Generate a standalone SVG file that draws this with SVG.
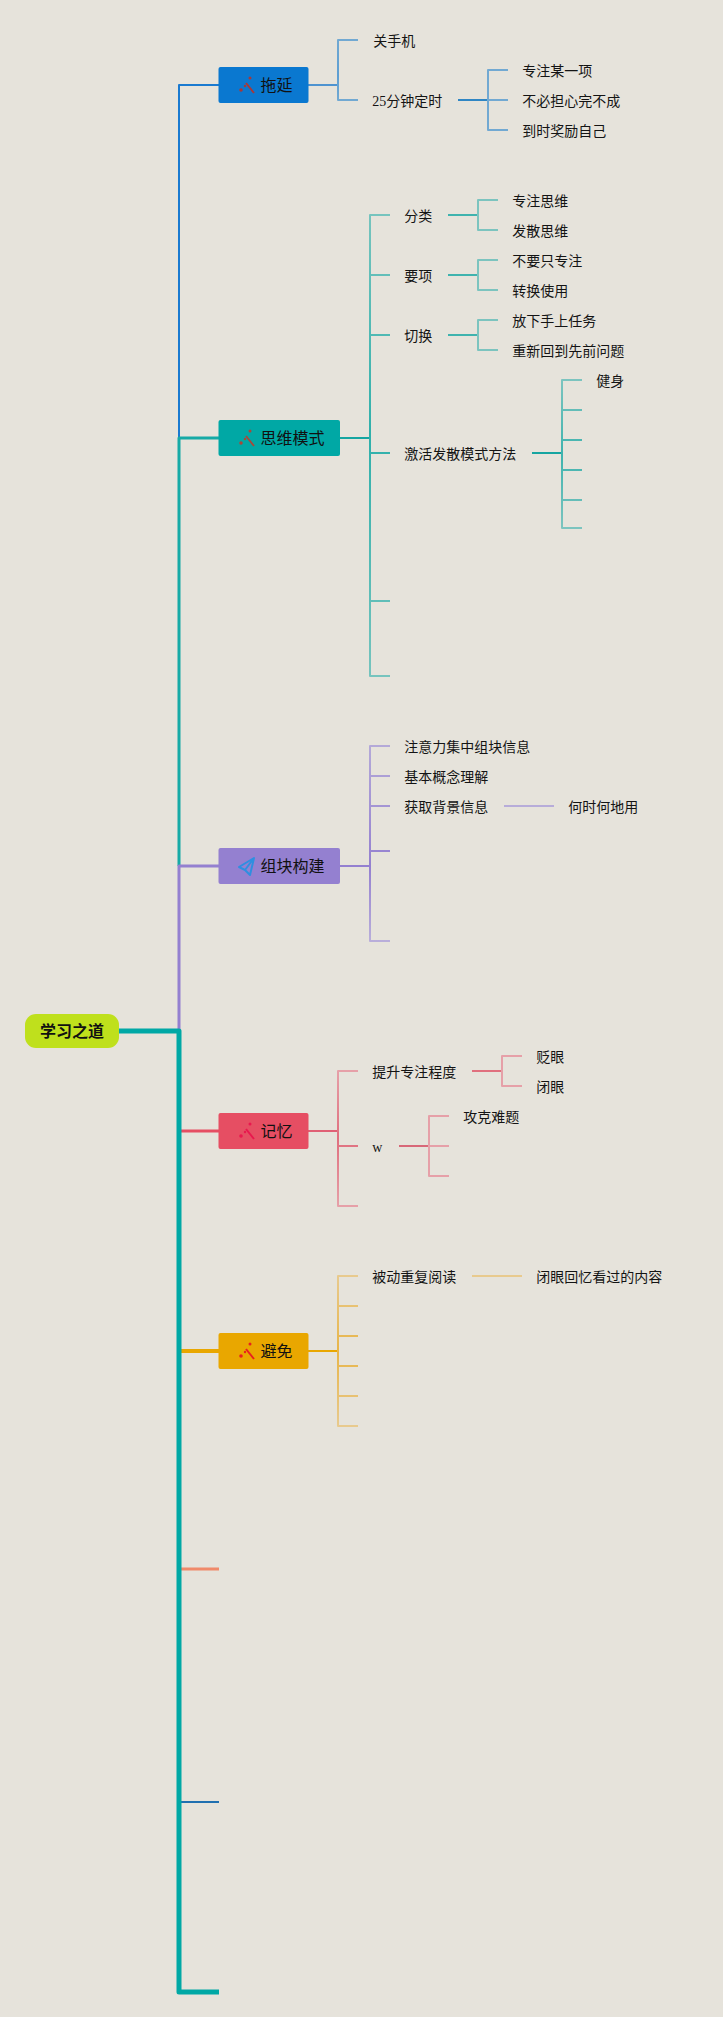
<svg xmlns="http://www.w3.org/2000/svg" width="723" height="2017" viewBox="0 0 723 2017">
<style>
text{font-family:"Liberation Serif","Noto Sans CJK SC",serif;font-size:14px;fill:#141414}
.nt{font-size:16px;fill:#111}
.root{font-size:16px;font-weight:700;fill:#111;font-family:"Noto Sans CJK SC","Liberation Sans",sans-serif}
.nd{stroke:none}
path,line{fill:none;stroke-linejoin:round}
.b{stroke-width:2}
.hub{stroke-width:2}
.wand{stroke-width:2}
</style>
<defs>
<linearGradient id="gb" x1="0" y1="0" x2="0" y2="1"><stop offset="0" stop-color="#72a9d2"/><stop offset=".6" stop-color="#5d9ed2"/><stop offset="1" stop-color="#72a9d2"/></linearGradient>
<linearGradient id="gt" x1="0" y1="0" x2="0" y2="1"><stop offset="0" stop-color="#76c4be"/><stop offset=".48" stop-color="#2fb0ab"/><stop offset="1" stop-color="#76c4be"/></linearGradient>
<linearGradient id="gt2" x1="0" y1="0" x2="0" y2="1"><stop offset="0" stop-color="#7cc4bf"/><stop offset=".5" stop-color="#3fb3ae"/><stop offset="1" stop-color="#7cc4bf"/></linearGradient>
<linearGradient id="gp" x1="0" y1="0" x2="0" y2="1"><stop offset="0" stop-color="#b4a9d8"/><stop offset=".615" stop-color="#9480d0"/><stop offset="1" stop-color="#b9aeda"/></linearGradient>
<linearGradient id="gr" x1="0" y1="0" x2="0" y2="1"><stop offset="0" stop-color="#e6a0a8"/><stop offset=".5" stop-color="#e06f7e"/><stop offset="1" stop-color="#e6a0a8"/></linearGradient>
<linearGradient id="gy" x1="0" y1="0" x2="0" y2="1"><stop offset="0" stop-color="#e8ca8e"/><stop offset=".5" stop-color="#e8b548"/><stop offset="1" stop-color="#e8ca8e"/></linearGradient>
</defs>
<rect width="723" height="2017" fill="#e6e3db"/>
<g id="connectors">
<path d="M219 85H179V438" stroke="#1a7ad0" stroke-width="2"/>
<path d="M219 438H179V866" stroke="#16aaa6" stroke-width="3"/>
<path d="M219 866H179V1031" stroke="#9480d0" stroke-width="3"/>
<path d="M219 1131H179" stroke="#e64e63" stroke-width="3"/>
<path d="M219 1351H179" stroke="#e9a700" stroke-width="4"/>
<path d="M179 1569H219" stroke="#f08a6a" stroke-width="3"/>
<path d="M179 1802H219" stroke="#2070b0" stroke-width="2"/>
<path d="M118 1031H179V1992H219" stroke="#00a8a5" stroke-width="5"/>

<path class="hub" d="M308 85H338" stroke="#4e93d0"/>
<path class="b" d="M358 40H338V100H358" stroke="url(#gb)"/>
<path class="hub" d="M458 100H488" stroke="#2f86c4"/>
<path class="b" d="M508 70H488V130H508M488 100H508" stroke="#72a9d2"/>

<path class="hub" d="M340 438H370" stroke="#16a5a1"/>
<path class="b" d="M390 215H370V676H390M370 275H390M370 335H390M370 453H390M370 601H390" stroke="url(#gt)"/>
<path class="hub" d="M448 215H478M448 275H478M448 335H478" stroke="#3fb3ae"/>
<path class="b" d="M498 200H478V230H498" stroke="#7cc4bf"/>
<path class="b" d="M498 260H478V290H498" stroke="#7cc4bf"/>
<path class="b" d="M498 320H478V350H498" stroke="#7cc4bf"/>
<path class="hub" d="M532 453H562" stroke="#16a5a1"/>
<path class="b" d="M582 380H562V528H582M562 410H582M562 440H582M562 470H582M562 500H582" stroke="url(#gt2)"/>

<path class="hub" d="M340 866H370" stroke="#9480d0"/>
<path class="b" d="M390 746H370V941H390M370 776H390M370 806H390M370 851H390" stroke="url(#gp)"/>
<path class="b" d="M504 806H554" stroke="#b7acd9"/>

<path class="hub" d="M308 1131H338" stroke="#e06075"/>
<path class="b" d="M358 1071H338V1206H358M338 1146H358" stroke="url(#gr)"/>
<path class="hub" d="M472 1071H502" stroke="#e0707e"/>
<path class="b" d="M522 1056H502V1086H522" stroke="#e6a0a8"/>
<path class="hub" d="M399 1146H429" stroke="#d86878"/>
<path class="b" d="M449 1116H429V1176H449M429 1146H449" stroke="#e6a0a8"/>

<path class="hub" d="M308 1351H338" stroke="#e9a700"/>
<path class="b" d="M358 1276H338V1426H358M338 1306H358M338 1336H358M338 1366H358M338 1396H358" stroke="url(#gy)"/>
<path class="b" d="M472 1276H522" stroke="#e8ca8e"/>
</g>

<g id="root"><rect x="25" y="1014" width="94" height="34" rx="11" fill="#bfe01c"/><text class="root" x="40" y="1037">学习之道</text></g>

<g id="n-tuoyan"><rect class="nd" x="218.500" y="67" width="90" height="36" rx="2" fill="#0a78d0"/>
<path class="wand" d="M246 83L254 93" stroke="#a83838"/><circle cx="241" cy="90" r="1.800" fill="#a83838"/><circle cx="245" cy="86" r="1.200" fill="#a83838"/><circle cx="250" cy="78" r="1.500" fill="#a83838"/>
<text class="nt" x="260.500" y="91">拖延</text></g>

<g id="n-siwei"><rect class="nd" x="218.500" y="420" width="121.500" height="36" rx="2" fill="#00a8a5"/>
<path class="wand" d="M246 436L254 446" stroke="#a8483a"/><circle cx="241" cy="443" r="1.800" fill="#a8483a"/><circle cx="245" cy="439" r="1.200" fill="#a8483a"/><circle cx="250" cy="431" r="1.500" fill="#a8483a"/>
<text class="nt" x="260.500" y="444">思维模式</text></g>

<g id="n-zukuai"><rect class="nd" x="218.500" y="848" width="121.500" height="36" rx="2" fill="#9480d0"/>
<path d="M254 858L239 867L245 870L250 875ZM245 870L254 858" stroke="#2f8fe0" stroke-width="2"/>
<text class="nt" x="260.500" y="872">组块构建</text></g>

<g id="n-jiyi"><rect class="nd" x="218.500" y="1113" width="90" height="36" rx="2" fill="#e64e63"/>
<path class="wand" d="M246 1129L254 1139" stroke="#e8184e"/><circle cx="241" cy="1136" r="1.800" fill="#e8184e"/><circle cx="245" cy="1132" r="1.200" fill="#e8184e"/><circle cx="250" cy="1124" r="1.500" fill="#e8184e"/>
<text class="nt" x="260.500" y="1137">记忆</text></g>

<g id="n-bimian"><rect class="nd" x="218.500" y="1333" width="90" height="36" rx="2" fill="#e9a700"/>
<path class="wand" d="M246 1349L254 1359" stroke="#e8201e"/><circle cx="241" cy="1356" r="1.800" fill="#e8201e"/><circle cx="245" cy="1352" r="1.200" fill="#e8201e"/><circle cx="250" cy="1344" r="1.500" fill="#e8201e"/>
<text class="nt" x="260.500" y="1357">避免</text></g>

<g id="labels" transform="translate(-0.800 0)">
<text x="374" y="46">关手机</text>
<text x="373" y="106">25分钟定时</text>
<text x="523" y="76">专注某一项</text>
<text x="523" y="106">不必担心完不成</text>
<text x="523" y="136">到时奖励自己</text>
<text x="405" y="221">分类</text>
<text x="513" y="206">专注思维</text>
<text x="513" y="236">发散思维</text>
<text x="405" y="281">要项</text>
<text x="513" y="266">不要只专注</text>
<text x="513" y="296">转换使用</text>
<text x="405" y="341">切换</text>
<text x="513" y="326">放下手上任务</text>
<text x="513" y="356">重新回到先前问题</text>
<text x="405" y="459">激活发散模式方法</text>
<text x="597" y="386">健身</text>
<text x="405" y="752">注意力集中组块信息</text>
<text x="405" y="782">基本概念理解</text>
<text x="405" y="812">获取背景信息</text>
<text x="569" y="812">何时何地用</text>
<text x="373" y="1077">提升专注程度</text>
<text x="537" y="1062">贬眼</text>
<text x="537" y="1092">闭眼</text>
<text x="373" y="1152">w</text>
<text x="464" y="1122">攻克难题</text>
<text x="373" y="1282">被动重复阅读</text>
<text x="537" y="1282">闭眼回忆看过的内容</text>
</g>
</svg>
